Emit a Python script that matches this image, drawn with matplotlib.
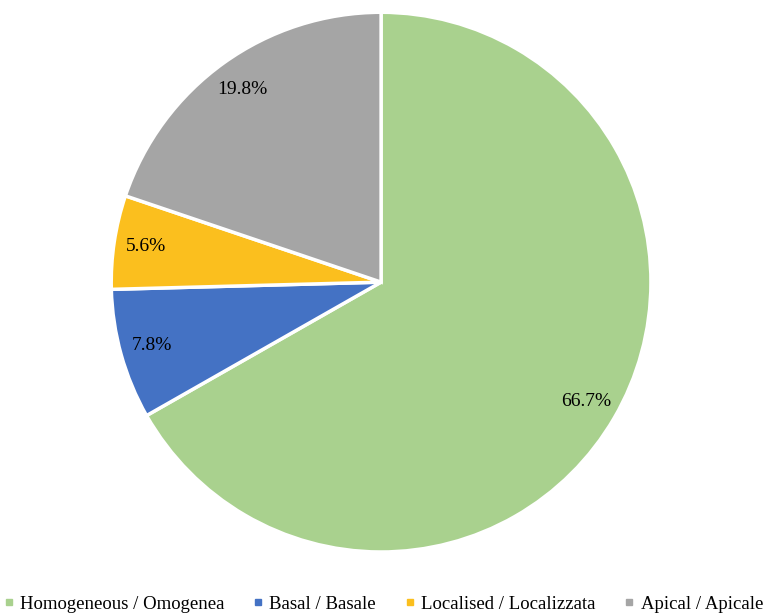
import matplotlib.pyplot as plt
from matplotlib.lines import Line2D

plt.rcParams['font.family'] = ['Liberation Serif', 'DejaVu Serif']

# data
labels = ["Homogeneous / Omogenea", "Basal / Basale",
          "Localised / Localizzata", "Apical / Apicale"]
values = [66.7, 7.8, 5.6, 19.8]
colors = ["#A9D18E", "#4472C4", "#FBBF1E", "#A5A5A5"]

fig = plt.figure(figsize=(7.66, 6.14), dpi=100)
ax = fig.add_axes([0.145, 0.101, 0.705, 0.879])

wedges, texts, autotexts = ax.pie(
    values,
    colors=colors,
    startangle=90,
    counterclock=False,
    autopct="%.1f%%",
    pctdistance=0.88,
    wedgeprops=dict(edgecolor="white", linewidth=2.5),
    textprops=dict(fontsize=14, color="black"),
)
# show the values as given (they sum to 99.9)
for t, v in zip(autotexts, values):
    t.set_text(f"{v:.1f}%")

ax.set_xlim(-1, 1)
ax.set_ylim(-1, 1)
ax.set_aspect("equal")
ax.axis("off")

# legend with small square markers
handles = [Line2D([0], [0], marker="s", linestyle="none", markersize=5,
                  markerfacecolor=c, markeredgecolor=c) for c in colors]
fig.legend(handles, labels, loc="center", bbox_to_anchor=(0.5, 0.016),
           ncol=4, frameon=False, fontsize=13.5, handlelength=0.6,
           handletextpad=0.3, columnspacing=1.5)

fig.savefig("out.png", dpi=100)
